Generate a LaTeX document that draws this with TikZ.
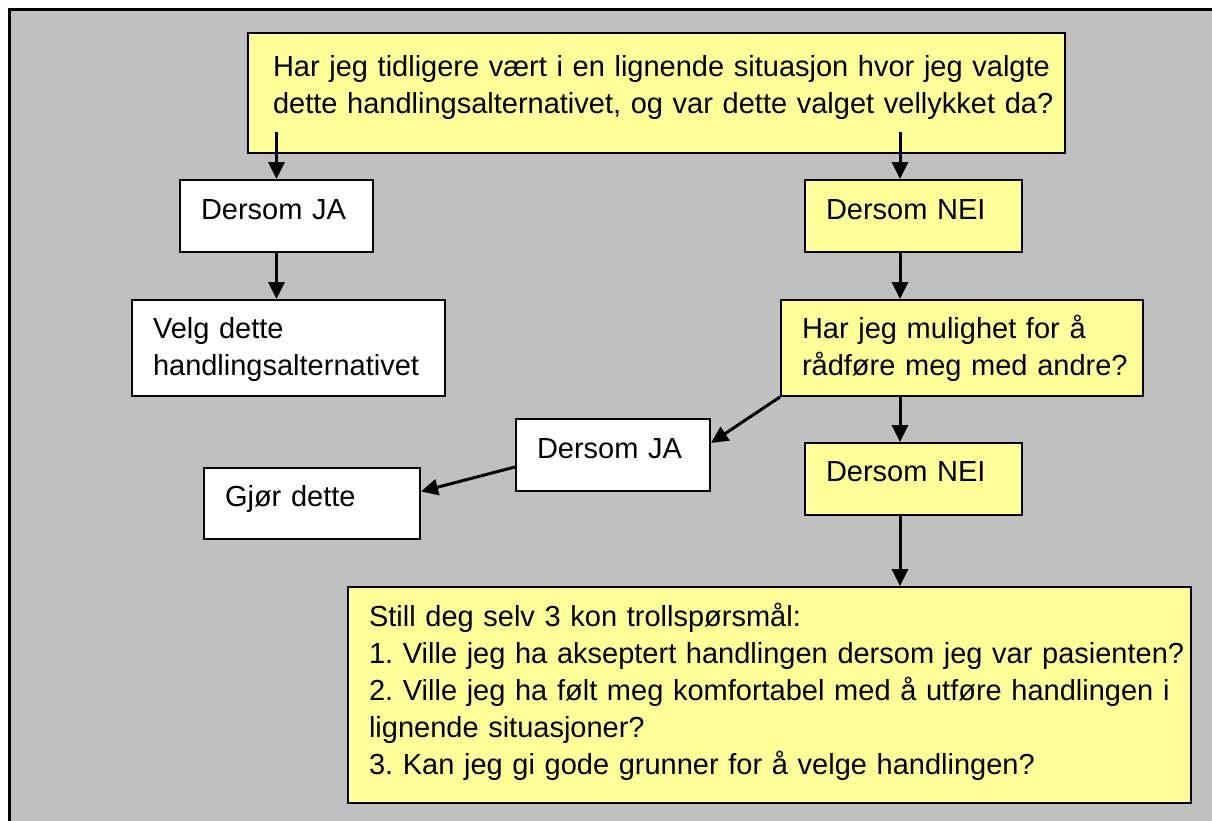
\documentclass[tikz,border=0pt]{standalone}
\usepackage{fontspec}
\setmainfont{Liberation Sans}
\usepackage{tikz}
\usetikzlibrary{arrows.meta}
\definecolor{qyellow}{HTML}{FFFF99}
\definecolor{bggray}{HTML}{C0C0C0}
\newcommand{\boxfont}{\fontsize{29}{37}\selectfont\frenchspacing}
\tikzset{
  box/.style={draw=black, line width=2pt, fill=white, anchor=north west, align=left,
    inner xsep=0pt, inner ysep=0pt, font=\boxfont, text height=39pt, text depth=33pt,
    execute at begin node={\leftskip=21pt}},
  qbox/.style={box, fill=qyellow},
  arr/.style={-{Triangle[length=17pt,width=16pt]}, line width=3pt},
}

\begin{document}
\begin{tikzpicture}[x=1pt,y=-1pt]
                \useasboundingbox (0,0) rectangle (1212,820);
                \clip (0,0) rectangle (1212,820);
                \filldraw[fill=bggray, line width=3pt] (9,9) rectangle (1240,850);
                \coordinate (rcol) at (900,0);
                \node[qbox, text width=817pt, text height=43pt, text depth=77pt, execute at begin node={\leftskip=25pt}] (topq) at (247,32)
                    {Har jeg tidligere vært i en lignende situasjon hvor jeg valgte\\dette handlingsalternativet, og var dette valget vellykket da?};
                \node[box, text width=193pt] (ja1) at (179,179) {Dersom JA};
                \node[qbox, text width=217pt] (nei1) at (804,179) {Dersom NEI};
                \node[box, text width=313pt, text height=38pt, text depth=58pt] (velg) at (131,299) {Velg dette\\handlingsalternativet};
                \node[qbox, text width=362pt, text height=38pt, text depth=58pt] (har) at (780,299) {Har jeg mulighet for å\\rådføre meg med andre?};
                \node[box, text width=194pt] (ja2) at (515,418) {Dersom JA};
                \node[qbox, text width=217pt, text height=38pt, text depth=34pt] (nei2) at (804,442) {Dersom NEI};
                \node[box, text width=216pt, text height=38pt] (gjor) at (203,467) {Gjør dette};
                \node[qbox, text width=843pt, text depth=177pt] (still) at (347,586)
                    {Still deg selv 3 kon trollspørsmål:\\1. Ville jeg ha akseptert handlingen dersom jeg var pasienten?\\2. Ville jeg ha følt meg komfortabel med å utføre handlingen i\\lignende situasjoner?\\3. Kan jeg gi gode grunner for å velge handlingen?};
                \draw[arr] ([yshift=22pt]topq.south -| ja1.north) -- (ja1.north);
                \draw[arr] ([yshift=22pt]topq.south -| rcol) -- (nei1.north -| rcol);
                \draw[arr] (ja1.south) -- (velg.north -| ja1.south);
                \draw[arr] (nei1.south -| rcol) -- (har.north -| rcol);
                \draw[arr] (har.south -| rcol) -- (nei2.north -| rcol);
                \draw[arr] (nei2.south -| rcol) -- (still.north -| rcol);
                \draw[arr] (har.south west) -- ([yshift=12pt]ja2.east);
                \draw[arr] ([yshift=-12pt]ja2.west) -- ([yshift=12pt]gjor.east);
            \end{tikzpicture}
\end{document}
